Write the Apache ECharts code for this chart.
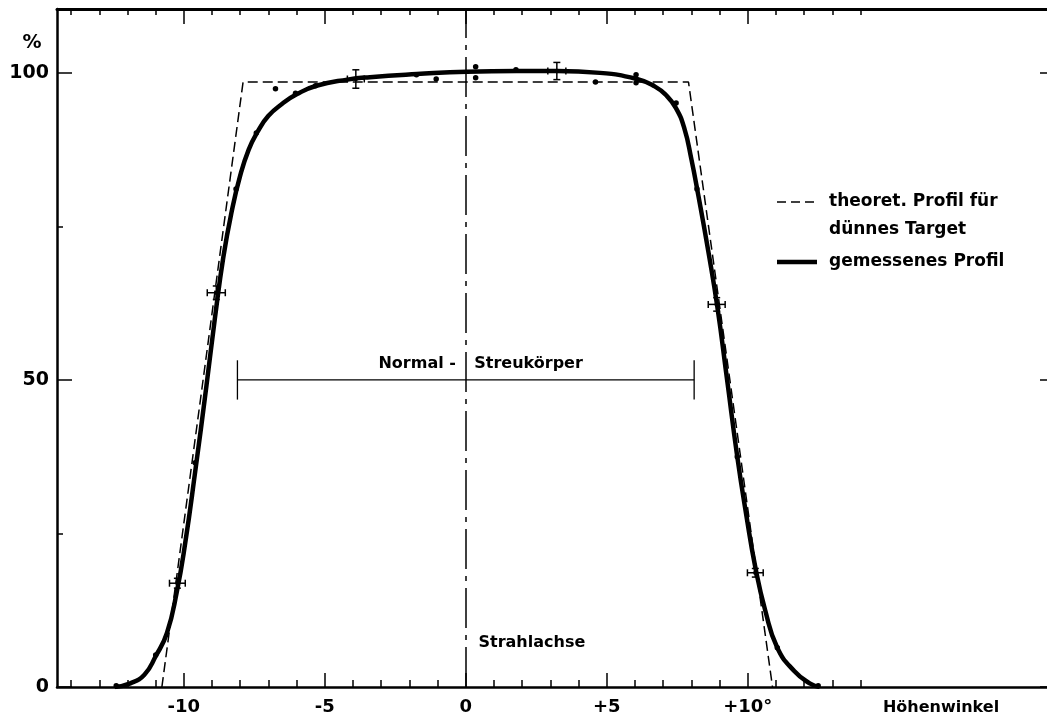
<!DOCTYPE html>
<html>
<head>
<meta charset="utf-8">
<script src="https://cdn.jsdelivr.net/npm/echarts@6/dist/echarts.min.js"></script>
<style>
  html, body { margin: 0; background: #fff; overflow: hidden; }
  #container { width: 1060px; height: 722px; }
</style>
</head>
<body>
<div id="container"></div>
<script>
// Höhenwinkel (deg) vs. relative Intensität (%)
var theoryX = [-10.78, -7.9, 7.9, 10.88];
var theoryY = [0, 98.5, 98.5, 0];

var curveX = [-12.45, -11.9, -11.4, -11.0, -10.6, -10.25, -9.95, -9.6, -9.2, -8.9, -8.6, -8.3, -8.0, -7.7, -7.4,
  -7.0, -6.5, -6.0, -5.3, -4.2, -3.4, -1.74, 0.04, 1.81, 3.23, 4.76, 6.07, 6.7, 7.1, 7.45, 7.75, 8.0,
  8.25, 8.6, 8.92, 9.27, 9.63, 9.95, 10.27, 10.62, 11.05, 11.65, 12.2, 12.55];
var curveY = [0, 0.6, 2.0, 5.0, 8.8, 15.5, 23.5, 35, 49, 60, 70, 77.5, 83.3, 87.5, 90.3,
  93.0, 95.0, 96.5, 97.9, 98.9, 99.3, 99.8, 100.2, 100.3, 100.3, 100.0, 99.0, 97.8, 96.4, 94.3, 91.0, 86.0,
  80.0, 71.0, 62.0, 50, 37.5, 28, 19.5, 12.5, 6.4, 2.6, 0.6, 0];

var pointX = [-12.4, -11.0, -9.6, -8.15, -7.43, -6.75, -6.04, -5.33, -1.75, -1.05, 0.35, 0.35, 1.78, 4.6, 6.04, 6.04, 7.46, 8.2, 9.63, 11.05, 12.5];
var pointY = [0.2, 5.2, 36.5, 81.1, 90.2, 97.4, 96.7, 97.9, 99.7, 99.0, 101.0, 99.2, 100.5, 98.5, 99.7, 98.4, 95.1, 81.1, 37.5, 6.4, 0.2];

// Messpunkte mit Fehlerbalken: x, y, halbe Breite (Grad), halbe Höhe (%)
var errX = [-10.23, -8.85, -3.9, 3.23, 8.9, 10.27];
var errY = [16.9, 64.2, 99.0, 100.3, 62.3, 18.6];
var errDx = [0.28, 0.32, 0.3, 0.32, 0.3, 0.28];
var errDy = [0.8, 1.1, 1.5, 1.4, 1.1, 0.7];

// Bereich Normal-Streukörper
var spanFrom = -8.1, spanTo = 8.1, spanAt = 50, spanCap = 3.2;

var notes = ['Normal -', 'Streukörper', 'Strahlachse'];
var noteX = [-0.35, 0.3, 0.45];
var noteY = [52.6, 52.6, 7.2];
var noteSide = ['left', 'right', 'right'];

var majorTicksX = [-10, -5, 0, 5, 10];
var minorTicksX = [-14, -13, -12, -11, -9, -8, -7, -6, -4, -3, -2, -1, 1, 2, 3, 4, 6, 7, 8, 9, 11, 12, 13, 14];
var tickLabelsX = ['-10', '-5', '0', '+5', '+10°'];
var majorTicksY = [0, 50, 100];
var minorTicksY = [25, 75];
var tickLabelsY = ['0', '50', '100'];

var FONT = 'DejaVu Sans';
var dom = document.getElementById('container');
var myChart = echarts.init(dom, null, { renderer: 'canvas' });

function zip(a, b) {
  return a.map(function (v, i) { return [v, b[i]]; });
}

function xAxisDef(pos, ticks, len, lineW, labels) {
  return {
    type: 'value', position: pos, min: -14.5, max: 20.9,
    splitLine: { show: false },
    axisLine: { show: lineW > 0, onZero: false, lineStyle: { color: '#000', width: lineW } },
    axisTick: { show: true, inside: true, length: len, customValues: ticks, lineStyle: { color: '#000', width: 1.5 } },
    axisLabel: labels ? {
      show: true, customValues: majorTicksX, margin: 11, color: '#000',
      fontFamily: FONT, fontWeight: 'bold', fontSize: 18,
      formatter: function (v) { return tickLabelsX[majorTicksX.indexOf(v)]; }
    } : { show: false }
  };
}

function yAxisDef(pos, ticks, len, lineW, labels) {
  return {
    type: 'value', position: pos, min: 0, max: 110.4,
    splitLine: { show: false },
    axisLine: { show: lineW > 0, onZero: false, lineStyle: { color: '#000', width: lineW } },
    axisTick: { show: true, inside: true, length: len, customValues: ticks, lineStyle: { color: '#000', width: 1.5 } },
    axisLabel: labels ? {
      show: true, customValues: majorTicksY, margin: 8, color: '#000',
      fontFamily: FONT, fontWeight: 'bold', fontSize: 19,
      formatter: function (v) { return tickLabelsY[majorTicksY.indexOf(v)]; }
    } : { show: false }
  };
}

var textFont = 'bold 17px "DejaVu Sans"';

var option = {
  animation: false,
  backgroundColor: '#fff',
  grid: { left: 57, top: 9, width: 998, height: 678 },
  xAxis: [
    xAxisDef('bottom', majorTicksX, 14, 2.5, true),
    xAxisDef('bottom', minorTicksX, 7, 0, false),
    xAxisDef('top', majorTicksX, 15, 3, false),
    xAxisDef('top', minorTicksX, 6, 0, false)
  ],
  yAxis: [
    yAxisDef('left', majorTicksY, 15, 2.5, true),
    yAxisDef('left', minorTicksY, 6, 0, false),
    yAxisDef('right', majorTicksY, 15, 0, false),
    yAxisDef('right', minorTicksY, 6, 0, false)
  ],
  graphic: [
    { type: 'line', shape: { x1: 777, y1: 202, x2: 817, y2: 202 }, style: { stroke: '#000', lineWidth: 1.5, lineDash: [9, 5] } },
    { type: 'text', x: 829, y: 202, style: { text: 'theoret. Profil für', font: textFont, fill: '#000', textVerticalAlign: 'middle' } },
    { type: 'text', x: 829, y: 230, style: { text: 'dünnes Target', font: textFont, fill: '#000', textVerticalAlign: 'middle' } },
    { type: 'line', shape: { x1: 777, y1: 262, x2: 817, y2: 262 }, style: { stroke: '#000', lineWidth: 4.5 } },
    { type: 'text', x: 829, y: 262, style: { text: 'gemessenes Profil', font: textFont, fill: '#000', textVerticalAlign: 'middle' } },
    { type: 'text', x: 32, y: 43, style: { text: '%', font: 'bold 19px "DejaVu Sans"', fill: '#000', textAlign: 'center', textVerticalAlign: 'middle' } },
    { type: 'text', x: 941, y: 708, style: { text: 'Höhenwinkel', font: 'bold 16px "DejaVu Sans"', fill: '#000', textAlign: 'center', textVerticalAlign: 'middle' } }
  ],
  series: [
    {
      name: 'theoret. Profil',
      type: 'line',
      data: zip(theoryX, theoryY),
      symbol: 'none',
      lineStyle: { color: '#000', width: 1.5, type: [10, 5] },
      z: 2,
      markLine: {
        silent: true, symbol: 'none', label: { show: false },
        lineStyle: { color: '#000', width: 1.5, type: [40, 7, 5, 7] },
        data: [{ xAxis: 0 }]
      }
    },
    {
      name: 'gemessenes Profil',
      type: 'line',
      data: zip(curveX, curveY),
      symbol: 'none',
      smooth: 0.5,
      lineStyle: { color: '#000', width: 4.5 },
      z: 3
    },
    {
      name: 'Messpunkte',
      type: 'scatter',
      data: zip(pointX, pointY),
      symbol: 'circle',
      symbolSize: 5.5,
      itemStyle: { color: '#000', opacity: 1 },
      z: 4
    },
    {
      name: 'Fehler',
      type: 'custom',
      data: errX.map(function (x, i) { return [x, errY[i], errDx[i], errDy[i]]; }),
      z: 5,
      renderItem: function (params, api) {
        var x = api.value(0), y = api.value(1), dx = api.value(2), dy = api.value(3);
        var c = api.coord([x, y]);
        var l = api.coord([x - dx, y]), r = api.coord([x + dx, y]);
        var t = api.coord([x, y + dy]), b = api.coord([x, y - dy]);
        var cap = 3.5;
        var st = { stroke: '#000', lineWidth: 1.5 };
        return {
          type: 'group',
          children: [
            { type: 'line', shape: { x1: l[0], y1: c[1], x2: r[0], y2: c[1] }, style: st },
            { type: 'line', shape: { x1: c[0], y1: t[1], x2: c[0], y2: b[1] }, style: st },
            { type: 'line', shape: { x1: l[0], y1: c[1] - cap, x2: l[0], y2: c[1] + cap }, style: st },
            { type: 'line', shape: { x1: r[0], y1: c[1] - cap, x2: r[0], y2: c[1] + cap }, style: st },
            { type: 'line', shape: { x1: c[0] - cap, y1: t[1], x2: c[0] + cap, y2: t[1] }, style: st },
            { type: 'line', shape: { x1: c[0] - cap, y1: b[1], x2: c[0] + cap, y2: b[1] }, style: st },
            { type: 'circle', shape: { cx: c[0], cy: c[1], r: 2.2 }, style: { fill: '#000' } }
          ]
        };
      }
    },
    {
      name: 'Streukörper',
      type: 'custom',
      data: [[spanFrom, spanTo, spanAt, spanCap]],
      z: 2,
      renderItem: function (params, api) {
        var a = api.coord([api.value(0), api.value(2)]);
        var b = api.coord([api.value(1), api.value(2)]);
        var top = api.coord([api.value(0), api.value(2) + api.value(3)]);
        var bot = api.coord([api.value(0), api.value(2) - api.value(3)]);
        var st = { stroke: '#000', lineWidth: 1.3 };
        return {
          type: 'group',
          children: [
            { type: 'line', shape: { x1: a[0], y1: a[1], x2: b[0], y2: b[1] }, style: st },
            { type: 'line', shape: { x1: a[0], y1: top[1], x2: a[0], y2: bot[1] }, style: st },
            { type: 'line', shape: { x1: b[0], y1: top[1], x2: b[0], y2: bot[1] }, style: st }
          ]
        };
      }
    },
    {
      name: 'Beschriftung',
      type: 'scatter',
      symbolSize: 0,
      silent: true,
      itemStyle: { opacity: 1 },
      data: notes.map(function (t, i) {
        return {
          value: [noteX[i], noteY[i]],
          label: {
            show: true, formatter: t, position: noteSide[i], distance: 0,
            color: '#000', fontFamily: FONT, fontWeight: 'bold', fontSize: 16
          }
        };
      }),
      z: 6
    }
  ]
};

window.addEventListener('resize', myChart.resize);
myChart.setOption(option);
</script>
</body>
</html>
